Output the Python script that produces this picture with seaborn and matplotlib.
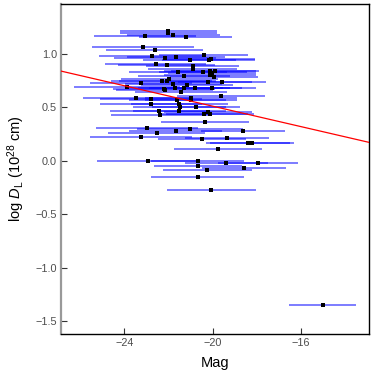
import matplotlib
matplotlib.use("Agg")
import matplotlib.pyplot as plt
import seaborn as sns
import pandas as pd

mag = [-22.01, -22.01, -21.78, -23.05, -21.22, -23.15, -22.62, -22.73, -22.14, -21.66,
       -21.03, -20.41, -20.09, -20.17, -22.58, -22.07, -20.90, -20.90, -21.56, -20.43,
       -20.12, -19.90, -20.02, -20.12, -19.93, -21.29, -21.95, -22.31, -22.05, -21.78,
       -23.23, -20.20, -19.58, -21.16, -23.86, -22.19, -22.17, -21.71, -21.29, -20.79,
       -20.03, -21.43, -19.61, -21.60, -20.98, -20.98, -21.51, -21.48, -20.76, -21.51,
       -20.21, -20.12, -20.41, -22.38, -20.33, -21.66, -21.01, -18.64, -20.47, -19.34,
       -18.39, -18.22, -19.75, -23.46, -22.78, -22.79, -22.43, -22.97, -22.52, -23.24,
       -22.93, -20.67, -19.37, -17.95, -20.67, -18.57, -20.23, -20.67, -20.05, -15.02]
logdl = [1.215, 1.193, 1.172, 1.163, 1.153, 1.060, 1.035, 0.976, 0.957, 0.966,
         0.941, 0.985, 0.950, 0.938, 0.904, 0.897, 0.882, 0.857, 0.832, 0.832,
         0.841, 0.841, 0.817, 0.804, 0.785, 0.789, 0.764, 0.742, 0.742, 0.720,
         0.723, 0.733, 0.735, 0.710, 0.686, 0.673, 0.657, 0.677, 0.677, 0.682,
         0.679, 0.642, 0.602, 0.570, 0.589, 0.570, 0.533, 0.502, 0.502, 0.467,
         0.452, 0.439, 0.434, 0.427, 0.362, 0.278, 0.296, 0.278, 0.206, 0.209,
         0.163, 0.163, 0.112, 0.586, 0.579, 0.527, 0.462, 0.303, 0.262, 0.219,
         -0.006, 0.000, -0.019, -0.019, -0.047, -0.071, -0.084, -0.150, -0.277, -1.346]
mag_err = [2.2, 2.2, 2.1, 2.3, 2.1, 2.3, 2.2, 2.4, 2.3, 2.2,
           2.1, 2.0, 2.0, 2.1, 2.3, 2.2, 2.1, 2.0, 2.2, 2.0,
           2.1, 2.0, 2.0, 2.1, 2.0, 2.1, 2.2, 2.3, 2.2, 2.2,
           2.3, 2.0, 2.0, 2.1, 2.4, 2.3, 2.2, 2.2, 2.1, 2.1,
           2.0, 2.1, 2.0, 2.2, 2.1, 2.1, 2.2, 2.1, 2.0, 2.1,
           2.0, 2.0, 2.0, 2.2, 2.0, 2.1, 2.4, 1.9, 2.0, 1.9,
           1.9, 1.9, 2.0, 2.4, 2.3, 2.3, 2.2, 2.3, 2.2, 2.3,
           2.3, 2.1, 1.9, 1.8, 2.0, 1.9, 2.0, 2.1, 2.0, 1.5]

fit_intercept = -0.446
fit_slope = -0.0478

df = pd.DataFrame({"Mag": mag, "logDL": logdl, "err": mag_err})

sns.set_theme(style="white")
plt.rcParams['font.family'] = ['Liberation Sans', 'DejaVu Sans']
plt.rcParams['mathtext.fontset'] = 'custom'
plt.rcParams['mathtext.rm'] = 'Liberation Sans'
plt.rcParams['mathtext.it'] = 'Liberation Sans:italic'

fig = plt.figure(figsize=(3.74, 3.74), dpi=100)
ax = fig.add_axes([61/374, 1-334/374, (369-61)/374, (334-4)/374])

ax.errorbar(df["Mag"], df["logDL"], xerr=df["err"], fmt="none",
            ecolor="#0000FF", alpha=0.65, elinewidth=1.1, capsize=0, zorder=2)
sns.scatterplot(data=df, x="Mag", y="logDL", color="black", s=5.5, marker="s",
                edgecolor="black", linewidth=0, ax=ax, zorder=3)
ax.axline((0, fit_intercept), slope=fit_slope, color="red", lw=0.9, zorder=4)

ax.set_xlim(-26.86, -12.92)
ax.set_ylim(-1.62, 1.465)
ax.set_xticks([-24, -20, -16])
ax.set_xticklabels(["\u221224", "\u221220", "\u221216"])
ax.set_yticks([-1.5, -1.0, -0.5, 0.0, 0.5, 1.0])
ax.set_yticklabels(["\u22121.5", "\u22121.0", "\u22120.5", "0.0", "0.5", "1.0"])
ax.tick_params(axis="both", direction="in", length=4, width=0.8, color="#333333",
               labelsize=7.8, labelcolor="#4d4d4d", pad=3,
               bottom=True, left=True)
for s in ["top", "right", "bottom"]:
    ax.spines[s].set_color("black")
    ax.spines[s].set_linewidth(1.0)
ax.spines["left"].set_color("#999999")
ax.spines["left"].set_linewidth(1.6)

ax.set_xlabel("Mag", fontsize=10.5, color="black", labelpad=6)
ax.set_ylabel(r"log $D_{\mathrm{L}}$ (10$^{28}$ cm)", fontsize=10.5, color="black", labelpad=6)

fig.savefig("out.png", dpi=100)
